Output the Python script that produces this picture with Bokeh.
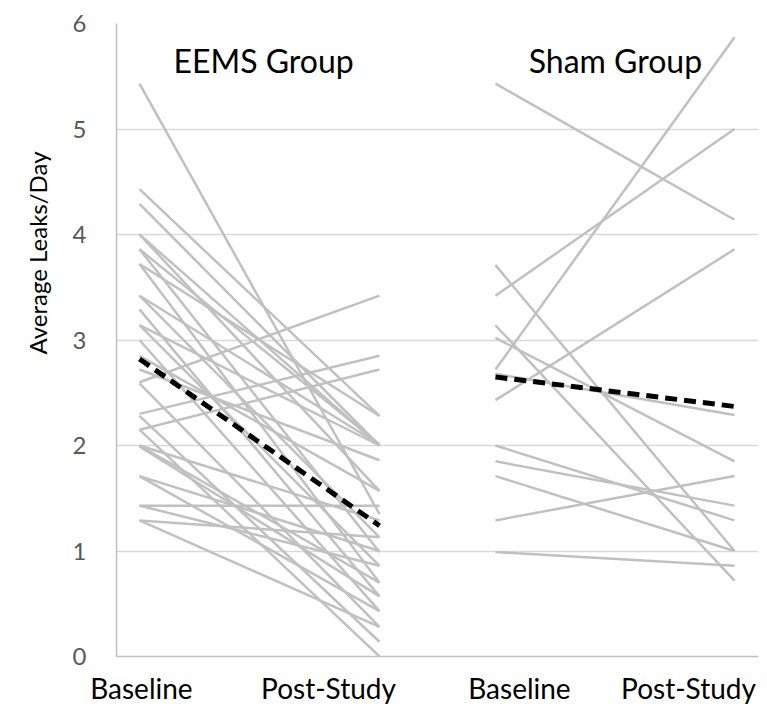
from bokeh.plotting import figure
from bokeh.models import FixedTicker, Range1d, Title
from bokeh.core.properties import value
from bokeh.embed import file_html
from bokeh.resources import INLINE

# ---- data ----
eems_baseline = [5.43, 4.43, 4.29, 4.00, 4.00, 3.86, 3.86, 3.72, 3.72, 3.42, 3.42, 3.29,
                 3.14, 3.14, 3.00, 2.72, 2.60, 2.59, 2.30, 2.28, 2.15, 2.15, 2.00, 2.00,
                 1.99, 1.71, 1.71, 1.43, 1.43, 1.29, 1.29, 2.85]
eems_post = [1.35, 2.28, 2.00, 2.00, 1.57, 2.01, 0.99, 2.28, 0.70, 2.01, 1.13, 0.57,
             2.00, 0.86, 0.43, 1.86, 3.42, 0.28, 2.85, 0.14, 2.72, 0.00, 1.29, 0.70,
             0.57, 1.00, 0.43, 1.43, 0.86, 1.13, 0.28, 1.57]
sham_baseline = [5.43, 3.42, 2.72, 2.43, 2.68, 3.71, 3.14, 3.02, 2.00, 1.85, 1.71, 1.29, 0.99]
sham_post = [4.14, 5.00, 5.87, 3.86, 2.29, 1.00, 0.72, 1.85, 1.29, 1.43, 1.00, 1.71, 0.86]
eems_mean = [2.82, 1.24]
sham_mean = [2.65, 2.37]
group_names = ["EEMS Group", "Sham Group"]
tick_labels = ["Baseline", "Post-Study", "Baseline", "Post-Study"]
y_ticks = [0, 1, 2, 3, 4, 5, 6]
y_title = "Average Leaks/Day"

# category positions (layout)
pos_eems = [0.0, 1.0]
pos_sham = [1.483, 2.479]
label_pos = [0.008, 0.7875, 1.583, 2.2875]
title_pos = [0.517, 1.983]
title_y = 5.65

FONT = "Lato"

p = figure(width=767, height=707, output_backend="svg", toolbar_location=None,
           x_range=Range1d(-0.0958, 2.579), y_range=Range1d(0, 6),
           min_border_left=116, min_border_right=9, min_border_top=23, min_border_bottom=50)
p.outline_line_color = None
p.background_fill_color = "white"
p.border_fill_color = "white"

# grid
p.xgrid.grid_line_color = None
p.ygrid.grid_line_color = "#d9d9d9"
p.ygrid.grid_line_width = 1.5
p.yaxis.ticker = FixedTicker(ticks=y_ticks)

# y axis
p.yaxis.axis_line_color = "#bfbfbf"
p.yaxis.axis_line_width = 1.5
p.yaxis.major_tick_line_color = None
p.yaxis.major_tick_out = 0
p.yaxis.major_tick_in = 0
p.yaxis.minor_tick_line_color = None
p.yaxis.major_label_text_font = FONT
p.yaxis.major_label_text_font_size = "24px"
p.yaxis.major_label_text_color = "#595959"
p.yaxis.major_label_standoff = 30

# y axis title, placed like the reference (above the frame centre)
p.add_layout(Title(text=y_title, align="left", offset=302, standoff=35,
                   text_font=FONT, text_font_size="24px", text_color="black",
                   text_font_style="normal"), "left")

# x axis
p.xaxis.ticker = FixedTicker(ticks=label_pos)
p.xaxis.major_label_overrides = {label_pos[i]: tick_labels[i] for i in range(4)}
p.xaxis.axis_line_color = "#bfbfbf"
p.xaxis.axis_line_width = 1.5
p.xaxis.major_tick_line_color = None
p.xaxis.major_tick_out = 0
p.xaxis.major_tick_in = 0
p.xaxis.minor_tick_line_color = None
p.xaxis.major_label_text_font = FONT
p.xaxis.major_label_text_font_size = "28px"
p.xaxis.major_label_text_color = "#000000"
p.xaxis.major_label_standoff = 14

# subject lines
xs = [pos_eems for _ in eems_baseline] + [pos_sham for _ in sham_baseline]
ys = [[b, a] for b, a in zip(eems_baseline, eems_post)] + \
     [[b, a] for b, a in zip(sham_baseline, sham_post)]
p.multi_line(xs=xs, ys=ys, line_color="#c0c0c0", line_width=2.5)

# mean lines
p.line(pos_eems, eems_mean, line_color="black", line_width=5, line_dash="12 7")
p.line(pos_sham, sham_mean, line_color="black", line_width=5, line_dash="12 7")

# group titles
p.text(x=title_pos, y=[title_y, title_y], text=group_names, text_font=value(FONT),
       text_font_size="32px", text_align="center", text_baseline="middle", text_color="black")

open("out.html", "w").write(file_html(p, INLINE))
